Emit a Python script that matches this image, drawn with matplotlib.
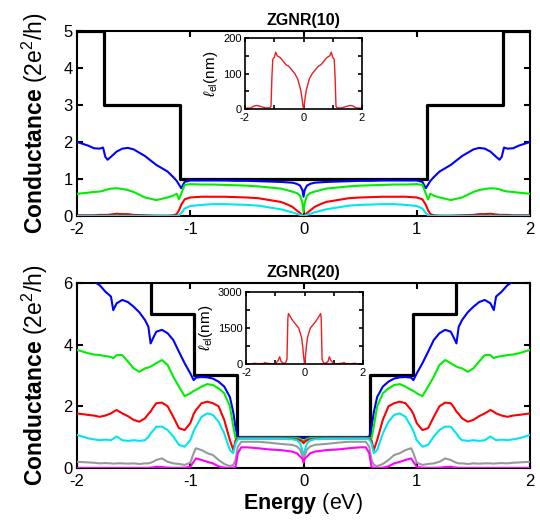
import numpy as np
import matplotlib
matplotlib.use("Agg")
import matplotlib.pyplot as plt

plt.rcParams['font.family'] = ['Liberation Sans', 'DejaVu Sans']
plt.rcParams['mathtext.fontset'] = 'custom'
plt.rcParams['mathtext.rm'] = 'Liberation Sans'
plt.rcParams['mathtext.it'] = 'Liberation Sans:italic'
plt.rcParams['mathtext.bf'] = 'Liberation Sans:bold'
plt.rcParams['axes.unicode_minus'] = False

# ---- ZGNR(10): energies for E >= 0 (curves are symmetric in E)
e_top = [0, 0.01, 0.03, 0.06, 0.1, 0.15, 0.2, 0.3, 0.4, 0.5, 0.6, 0.7, 0.8, 0.9, 1.0,
         1.05, 1.08, 1.1, 1.12, 1.15, 1.2, 1.3, 1.4, 1.5, 1.55, 1.6, 1.65, 1.7, 1.73,
         1.75, 1.77, 1.8, 1.85, 1.9, 2.0]
blue_top = [0.52, 0.7, 0.82, 0.87, 0.9, 0.91, 0.92, 0.93, 0.94, 0.95, 0.95, 0.96, 0.96, 0.96, 0.96,
            0.92, 0.75, 0.85, 0.95, 1.05, 1.2, 1.38, 1.62, 1.8, 1.84, 1.82, 1.74, 1.6, 1.52,
            1.6, 1.85, 1.82, 1.83, 1.9, 2.0]
green_top = [0.1, 0.35, 0.55, 0.62, 0.66, 0.7, 0.74, 0.77, 0.8, 0.82, 0.83, 0.84, 0.85, 0.85, 0.86,
             0.84, 0.6, 0.45, 0.6, 0.55, 0.5, 0.43, 0.5, 0.65, 0.7, 0.73, 0.75, 0.74, 0.72,
             0.7, 0.68, 0.66, 0.65, 0.63, 0.6]
red_top = [0.0, 0.02, 0.08, 0.15, 0.25, 0.32, 0.38, 0.43, 0.48, 0.5, 0.51, 0.52, 0.52, 0.52, 0.5,
           0.45, 0.3, 0.15, 0.05, 0.02, 0.01, 0.01, 0.02, 0.03, 0.05, 0.05, 0.06, 0.04, 0.03,
           0.03, 0.03, 0.03, 0.02, 0.02, 0.02]
cyan_top = [0, 0.01, 0.03, 0.06, 0.1, 0.14, 0.18, 0.23, 0.28, 0.3, 0.31, 0.32, 0.32, 0.3, 0.27,
            0.2, 0.08, 0.02, 0, 0, 0, 0, 0, 0, 0, 0, 0, 0, 0,
            0, 0, 0, 0, 0, 0]
step_e_top = [-2, -1.76, -1.09, 1.09, 1.76, 2]
step_g_top = [5, 3, 1, 3, 5, 5]

e_mfp10 = [0, 0.03, 0.06, 0.1, 0.2, 0.3, 0.4, 0.5, 0.6, 0.7, 0.8, 0.9, 0.95, 1.0, 1.05,
           1.08, 1.11, 1.15, 1.3, 1.5, 1.6, 1.7, 1.8, 2.0]
mfp10 = [0, 15, 35, 55, 85, 100, 110, 120, 125, 135, 145, 150, 160, 145, 140,
         90, 8, 3, 3, 8, 10, 8, 3, 2]

# ---- ZGNR(20)
e_bot = [0, 0.01, 0.03, 0.06, 0.1, 0.2, 0.3, 0.4, 0.5, 0.55, 0.58, 0.6, 0.62, 0.65, 0.7,
         0.75, 0.8, 0.85, 0.9, 0.95, 0.97, 1.0, 1.05, 1.1, 1.15, 1.2, 1.25, 1.3, 1.33,
         1.35, 1.37, 1.4, 1.45, 1.5, 1.55, 1.6, 1.65, 1.68, 1.7, 1.75, 1.8, 1.85, 1.9, 2.0]
blue_bot = [0.97, 0.98, 0.99, 1.0, 1.0, 1.0, 1.0, 1.0, 1.0, 1.0, 1.0, 1.3, 1.8, 2.3, 2.64,
            2.8, 2.9, 2.94, 2.95, 2.93, 2.85, 3.07, 3.4, 3.77, 4.15, 4.37, 4.48, 4.42, 4.2,
            4.04, 4.58, 4.8, 5.05, 5.23, 5.38, 5.45, 5.34, 5.12, 5.56, 5.72, 5.93, 6.04, 6.2, 6.4]
green_bot = [0.85, 0.9, 0.95, 0.97, 0.98, 0.98, 0.98, 0.98, 0.98, 0.98, 0.97, 0.96, 1.34, 2.0, 2.42,
             2.58, 2.69, 2.72, 2.64, 2.53, 2.5, 2.42, 2.33, 2.64, 2.96, 3.34, 3.5, 3.4, 3.33,
             3.29, 3.26, 3.23, 3.12, 3.23, 3.45, 3.66, 3.66, 3.56, 3.6, 3.63, 3.66, 3.68, 3.72, 3.83]
red_bot = [0.8, 0.85, 0.9, 0.93, 0.95, 0.96, 0.96, 0.96, 0.96, 0.96, 0.95, 0.9, 0.58, 0.9, 1.56,
           2.0, 2.1, 2.15, 2.1, 1.88, 1.75, 1.45, 1.23, 1.29, 1.66, 2.0, 2.12, 2.1, 1.95,
           1.83, 1.75, 1.61, 1.5, 1.56, 1.68, 1.77, 1.88, 1.82, 1.77, 1.7, 1.66, 1.7, 1.72, 1.77]
cyan_bot = [0.25, 0.55, 0.8, 0.9, 0.93, 0.95, 0.95, 0.95, 0.95, 0.95, 0.93, 0.8, 0.48, 0.58, 1.12,
            1.5, 1.72, 1.77, 1.66, 1.34, 1.2, 0.9, 0.69, 0.75, 1.02, 1.23, 1.34, 1.34, 1.2,
            1.12, 1.0, 0.9, 0.88, 0.9, 0.88, 0.9, 1.02, 0.95, 0.9, 0.92, 0.9, 0.93, 0.96, 1.07]
grey_bot = [0.26, 0.4, 0.6, 0.7, 0.75, 0.78, 0.82, 0.85, 0.85, 0.85, 0.69, 0.26, 0.1, 0.06, 0.13,
            0.26, 0.42, 0.48, 0.58, 0.64, 0.48, 0.17, 0.1, 0.13, 0.15, 0.2, 0.31, 0.26, 0.2,
            0.17, 0.15, 0.15, 0.13, 0.15, 0.14, 0.15, 0.15, 0.14, 0.15, 0.16, 0.15, 0.17, 0.18, 0.2]
magenta_bot = [0.17, 0.3, 0.37, 0.48, 0.53, 0.58, 0.6, 0.64, 0.67, 0.67, 0.48, 0.04, 0.01, 0.0, 0.01,
               0.05, 0.15, 0.2, 0.26, 0.31, 0.2, 0.04, 0.01, 0.0, 0.0, 0.01, 0.03, 0.04, 0.02,
               0.01, 0, 0, 0, 0, 0, 0, 0, 0, 0, 0, 0, 0, 0, 0]
step_e_bot = [-2, -1.35, -0.97, -0.59, 0.59, 0.97, 1.35, 2]
step_g_bot = [7, 5, 3, 1, 3, 5, 7, 7]

e_mfp20 = [0, 0.03, 0.06, 0.1, 0.2, 0.3, 0.4, 0.45, 0.5, 0.55, 0.57, 0.6, 0.65, 0.7,
           0.8, 0.85, 0.9, 0.97, 1.0, 1.1, 1.3, 1.35, 1.4, 1.6, 1.7, 1.8, 2.0]
mfp20 = [0, 300, 700, 1100, 1500, 1650, 1800, 1900, 2000, 2100, 1900, 200, 50, 20,
         100, 300, 150, 50, 20, 10, 30, 60, 20, 10, 30, 10, 10]


def mirror(e, g):
    e = np.asarray(e, float)
    g = np.asarray(g, float)
    return np.concatenate([-e[:0:-1], e]), np.concatenate([g[:0:-1], g])


def style(ax, lw=1.5, size=12):
    ax.tick_params(direction='in', top=True, right=True, width=lw, length=4,
                   labelsize=size, colors='black', pad=3)
    for s in ax.spines.values():
        s.set_linewidth(lw)


fig = plt.figure(figsize=(5.4, 5.25), dpi=100)

panels = [
    dict(rect=[0.1426, 0.5886, 0.839, 0.3524], ins=[0.4537, 0.7924, 0.2167, 0.1352],
         title='ZGNR(10)', e=e_top, se=step_e_top, sg=step_g_top, ylim=5, yt=[0, 1, 2, 3, 4, 5],
         curves=[(blue_top, '#0000ff'), (green_top, '#00ee00'), (red_top, '#ff0000'), (cyan_top, '#00e5ee')],
         me=e_mfp10, mv=mfp10, mlim=200, mt=[0, 50, 100, 150, 200], ml=['0', '', '100', '', '200'],
         xlab=False),
    dict(rect=[0.1426, 0.1086, 0.839, 0.3524], ins=[0.4556, 0.3067, 0.2167, 0.1371],
         title='ZGNR(20)', e=e_bot, se=step_e_bot, sg=step_g_bot, ylim=6, yt=[0, 2, 4, 6],
         curves=[(blue_bot, '#0000ff'), (green_bot, '#00ee00'), (red_bot, '#ff0000'), (cyan_bot, '#00e5ee'),
                 (grey_bot, '#999999'), (magenta_bot, '#ff00ff')],
         me=e_mfp20, mv=mfp20, mlim=3000, mt=[0, 750, 1500, 2250, 3000], ml=['0', '', '1500', '', '3000'],
         xlab=True),
]

for p in panels:
    ax = fig.add_axes(p['rect'])
    ax.step(p['se'], p['sg'], where='post', color='black', lw=2.3, zorder=2)
    for vals, col in p['curves']:
        x, y = mirror(p['e'], vals)
        ax.plot(x, y, color=col, lw=1.5, zorder=3)
    ax.set_xlim(-2, 2)
    ax.set_ylim(0, p['ylim'])
    ax.set_xticks([-2, -1, 0, 1, 2])
    ax.set_yticks(p['yt'])
    style(ax)
    ax.tick_params(axis='x', pad=4)
    ax.set_title(p['title'], fontsize=11.5, fontweight='bold', pad=4)
    ax.set_ylabel(r'$\mathbf{Conductance}$ (2e$^2$/h)', fontsize=16.5, labelpad=10)
    if p['xlab']:
        ax.set_xlabel(r'$\mathbf{Energy}$ (eV)', fontsize=15.5, labelpad=2)

    axi = fig.add_axes(p['ins'])
    x, y = mirror(p['me'], p['mv'])
    axi.plot(x, y, color='#ee1c25', lw=1.0)
    axi.set_xlim(-2, 2)
    axi.set_ylim(0, p['mlim'])
    axi.set_xticks([-2, -1, 0, 1, 2])
    axi.set_xticklabels(['-2', '', '0', '', '2'])
    axi.set_yticks(p['mt'])
    axi.set_yticklabels(p['ml'])
    style(axi, lw=1.2, size=8)
    axi.tick_params(length=3, pad=2.5)
    axi.tick_params(axis='x', pad=3)
    axi.set_ylabel(r'$\ell_{\rm el}$(nm)', fontsize=11, labelpad=2)

fig.savefig('out.png', dpi=100)
